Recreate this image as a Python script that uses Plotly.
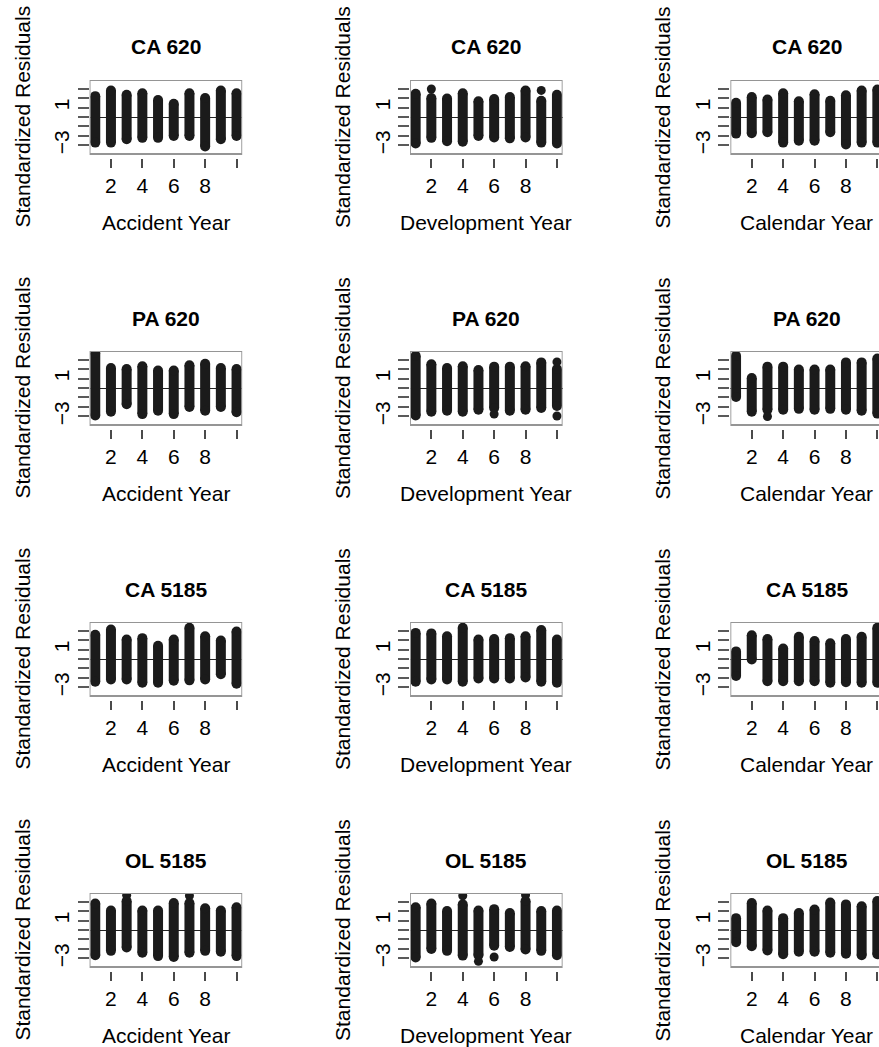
import plotly.graph_objects as go

# ---------------------------------------------------------------- data
years = list(range(1, 11))
row_titles = ["CA 620", "PA 620", "CA 5185", "OL 5185"]
col_titles = ["Accident Year", "Development Year", "Calendar Year"]
y_title = "Standardized Residuals"
x_tick_vals = [2, 4, 6, 8, 10]
x_tick_text = ["2", "4", "6", "8", ""]
y_tick_vals = [-3, -2, -1, 0, 1, 2, 3]
y_tick_text = ["\u22123", "", "", "", "1", "", ""]

# extreme standardized residuals (low / high) per year, one pair of lists per panel
ca620_acc_hi = [2.2, 2.8, 2.35, 2.5, 1.8, 1.4, 2.5, 2.0, 2.8, 2.5]
ca620_acc_lo = [-2.7, -2.7, -2.35, -2.2, -2.2, -2.0, -2.0, -3.1, -2.35, -2.0]
ca620_dev_hi = [2.45, 2.0, 1.95, 2.5, 1.65, 1.9, 2.1, 2.8, 1.7, 2.35]
ca620_dev_lo = [-2.8, -2.2, -2.55, -2.6, -2.0, -2.15, -2.25, -2.15, -2.7, -2.8]
ca620_cal_hi = [1.5, 2.1, 1.85, 2.5, 1.65, 2.4, 1.7, 2.3, 2.8, 2.9]
ca620_cal_lo = [-1.75, -1.7, -1.6, -2.7, -2.5, -2.5, -1.6, -2.9, -2.7, -2.7]

pa620_acc_hi = [3.7, 2.1, 2.0, 2.3, 1.85, 1.85, 2.4, 2.55, 2.1, 2.0]
pa620_acc_lo = [-2.9, -2.5, -1.7, -2.75, -2.4, -2.75, -2.0, -2.4, -2.0, -2.55]
pa620_dev_hi = [3.4, 2.5, 2.1, 2.3, 1.9, 2.25, 2.25, 2.3, 2.7, 2.0]
pa620_dev_lo = [-2.9, -2.5, -2.4, -2.5, -2.3, -2.1, -2.4, -2.3, -2.1, -1.9]
pa620_cal_hi = [3.4, 1.05, 2.25, 2.25, 1.95, 1.95, 1.95, 2.7, 2.7, 3.1]
pa620_cal_lo = [-0.95, -2.5, -2.3, -2.3, -2.2, -2.3, -2.2, -2.3, -2.4, -2.7]

ca5185_acc_hi = [2.55, 3.1, 2.05, 2.2, 1.4, 2.05, 3.3, 2.4, 1.95, 2.9]
ca5185_acc_lo = [-2.4, -2.15, -2.15, -2.5, -2.5, -2.3, -2.25, -2.15, -1.6, -2.6]
ca5185_dev_hi = [2.75, 2.7, 2.4, 3.3, 2.05, 2.1, 2.2, 2.4, 3.05, 2.05]
ca5185_dev_lo = [-2.4, -2.15, -2.15, -2.4, -2.05, -2.05, -2.05, -1.95, -2.4, -2.5]
ca5185_cal_hi = [0.8, 2.5, 2.1, 1.1, 2.35, 1.9, 1.65, 2.1, 2.35, 3.3]
ca5185_cal_lo = [-1.8, -0.05, -2.35, -2.35, -2.35, -2.35, -2.5, -2.45, -2.5, -2.5]

ol5185_acc_hi = [2.8, 2.05, 3.05, 2.05, 2.05, 2.85, 2.85, 2.3, 2.05, 2.4]
ol5185_acc_lo = [-2.65, -2.2, -1.85, -2.4, -2.75, -2.85, -2.4, -2.2, -2.3, -2.75]
ol5185_dev_hi = [2.4, 2.8, 2.0, 2.7, 2.05, 2.2, 1.8, 3.05, 2.0, 2.05]
ol5185_dev_lo = [-2.9, -2.0, -2.2, -2.7, -2.65, -1.65, -1.8, -2.05, -2.2, -2.65]
ol5185_cal_hi = [1.25, 2.85, 2.05, 1.25, 1.8, 2.15, 2.9, 2.7, 2.5, 3.05]
ol5185_cal_lo = [-1.3, -1.7, -2.15, -2.55, -2.3, -2.3, -2.4, -2.5, -2.65, -2.55]

# isolated residuals lying apart from the main cloud: (year, residual)
ca620_dev_out = [(2, 2.95), (9, 2.8)]
pa620_dev_out = [(6, -2.75), (10, 2.75), (10, -2.95)]
pa620_cal_out = [(3, -3.0)]
ol5185_acc_out = [(3, 3.65), (7, 3.6)]
ol5185_dev_out = [(4, 3.6), (5, -3.3), (6, -2.85), (8, 3.7)]

panels = [
    [(ca620_acc_lo, ca620_acc_hi, []), (ca620_dev_lo, ca620_dev_hi, ca620_dev_out),
     (ca620_cal_lo, ca620_cal_hi, [])],
    [(pa620_acc_lo, pa620_acc_hi, []), (pa620_dev_lo, pa620_dev_hi, pa620_dev_out),
     (pa620_cal_lo, pa620_cal_hi, pa620_cal_out)],
    [(ca5185_acc_lo, ca5185_acc_hi, []), (ca5185_dev_lo, ca5185_dev_hi, []),
     (ca5185_cal_lo, ca5185_cal_hi, [])],
    [(ol5185_acc_lo, ol5185_acc_hi, ol5185_acc_out), (ol5185_dev_lo, ol5185_dev_hi, ol5185_dev_out),
     (ol5185_cal_lo, ol5185_cal_hi, [])],
]

# ---------------------------------------------------------------- layout geometry (pixels)
W, H = 879, 1047
col_left = [89.6, 410.0, 730.4]
row_top = [80.0, 351.0, 622.0, 893.0]
frame_w, frame_h = 152.6, 74.0
x_lo, x_hi = 0.64, 10.36
y_lim = 3.9
tick_gap = 4.0                       # x ticks sit a little below the box
ppu_x = frame_w / (x_hi - x_lo)
ppu_y = frame_h / (2 * y_lim)

INK = "#1b1b1b"
FONT = "Liberation Sans, Arial, Helvetica, sans-serif"


def px(x):
    return x / W


def py(y):
    return 1 - y / H


fig = go.Figure()
layout = dict(
    width=W, height=H, margin=dict(l=0, r=0, t=0, b=0),
    paper_bgcolor="white", plot_bgcolor="white", showlegend=False,
    font=dict(family=FONT, size=21, color="black"),
)
shapes, annotations = [], []

for r in range(4):
    for c in range(3):
        k = r * 3 + c + 1
        xa = "x" if k == 1 else f"x{k}"
        ya = "y" if k == 1 else f"y{k}"
        lo, hi, out = panels[r][c]

        left = col_left[c]
        right = min(left + frame_w, W)
        top = row_top[r]
        bottom = top + frame_h + tick_gap
        xr_hi = x_lo + (right - left) / ppu_x

        layout["xaxis" if k == 1 else f"xaxis{k}"] = dict(
            domain=[px(left), px(right)], range=[x_lo, xr_hi], anchor=ya,
            showgrid=False, zeroline=False, showline=False,
            tickmode="array", tickvals=x_tick_vals, ticktext=x_tick_text,
            ticks="outside", ticklen=9, tickwidth=1.6, tickcolor="#4a4a4a",
            tickfont=dict(size=21, family=FONT), ticklabelstandoff=0,
        )
        layout["yaxis" if k == 1 else f"yaxis{k}"] = dict(
            domain=[py(bottom), py(top)],
            range=[-y_lim - tick_gap / ppu_y, y_lim], anchor=xa,
            showgrid=False, showline=False,
            zeroline=True, zerolinecolor="#222222", zerolinewidth=1.4,
            tickmode="array", tickvals=y_tick_vals, ticktext=y_tick_text,
            ticks="outside", ticklen=11, tickwidth=1.6, tickcolor="#5a5a5a",
            tickangle=-90, tickfont=dict(size=21, family=FONT),
        )

        # residual clouds: one thick rounded column per year
        xs, ys = [], []
        for yr, a, b in zip(years, lo, hi):
            xs += [yr, yr, None]
            ys += [a, b, None]
        fig.add_trace(go.Scatter(
            x=xs, y=ys, xaxis=xa, yaxis=ya, mode="lines+markers",
            line=dict(color=INK, width=10),
            marker=dict(color=INK, size=10),
            hoverinfo="skip",
        ))
        if out:
            fig.add_trace(go.Scatter(
                x=[p[0] for p in out], y=[p[1] for p in out],
                xaxis=xa, yaxis=ya, mode="markers",
                marker=dict(color=INK, size=9), hoverinfo="skip",
            ))

        # grey box round the plotting region
        shapes.append(dict(
            type="rect", xref=xa, yref=ya, x0=x_lo, x1=x_hi, y0=-y_lim, y1=y_lim,
            line=dict(color="#959595", width=1.8), layer="above",
        ))

        cx = px(left + frame_w / 2)
        annotations.append(dict(
            text=f"<b>{row_titles[r]}</b>", x=cx, y=py(top - 33),
            xref="paper", yref="paper", showarrow=False,
            xanchor="center", yanchor="middle", font=dict(size=21, family=FONT),
        ))
        annotations.append(dict(
            text=col_titles[c], x=cx, y=py(top + frame_h + 68),
            xref="paper", yref="paper", showarrow=False,
            xanchor="center", yanchor="middle", font=dict(size=21, family=FONT),
        ))
        annotations.append(dict(
            text=y_title, x=px(left - 68), y=py(top + frame_h / 2),
            xref="paper", yref="paper", showarrow=False, textangle=-90,
            xanchor="center", yanchor="middle", font=dict(size=21, family=FONT),
        ))

layout["shapes"] = shapes
layout["annotations"] = annotations
fig.update_layout(**layout)
fig.write_html("out.html")
